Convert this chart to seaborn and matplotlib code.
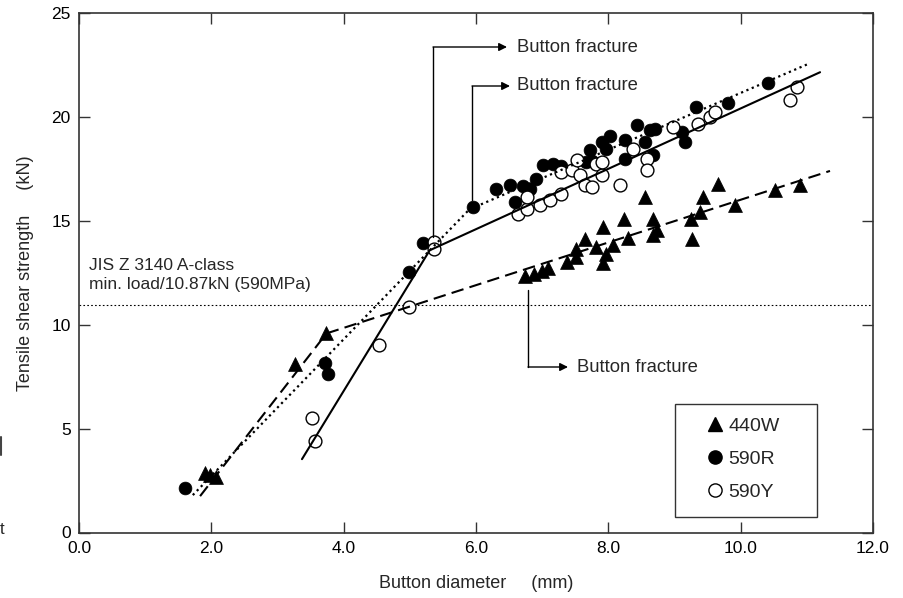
import numpy as np
import pandas as pd
import matplotlib
matplotlib.use("Agg")
import matplotlib.pyplot as plt
from matplotlib.lines import Line2D
from matplotlib.patches import Rectangle
import seaborn as sns

# ---------------- data ----------------
w440_d = [1.90, 1.98, 2.07, 3.27, 3.73, 6.74, 6.87, 6.99, 7.09, 7.37, 7.51, 7.51,
          7.65, 7.82, 7.92, 7.97, 7.92, 8.07, 8.24, 8.30, 8.55, 8.67, 8.68, 8.73,
          9.25, 9.27, 9.38, 9.43, 9.66, 9.91, 10.52, 10.90]
w440_f = [2.85, 2.76, 2.68, 8.13, 9.58, 12.33, 12.43, 12.59, 12.75, 13.02, 13.26, 13.66,
          14.14, 13.74, 14.70, 13.42, 12.97, 13.82, 15.11, 14.19, 16.14, 15.11, 14.30, 14.54,
          15.11, 14.14, 15.42, 16.14, 16.79, 15.75, 16.47, 16.71]

r590_d = [1.60, 3.72, 3.77, 4.98, 5.20, 5.96, 6.30, 6.51, 6.59, 6.71, 6.82, 6.91,
          7.02, 7.17, 7.29, 7.67, 7.72, 7.75, 7.90, 7.97, 8.02, 8.25, 8.25, 8.43,
          8.55, 8.68, 8.63, 8.70, 9.11, 9.16, 9.33, 9.81, 10.42]
r590_f = [2.15, 8.18, 7.62, 12.54, 13.93, 15.66, 16.55, 16.70, 15.90, 16.66, 16.55, 17.03,
          17.67, 17.75, 17.62, 17.83, 18.39, 17.90, 18.79, 18.47, 19.10, 18.87, 17.99, 19.59,
          18.79, 18.15, 19.35, 19.43, 19.27, 18.79, 20.47, 20.66, 21.63]

y590_d = [3.52, 3.56, 4.54, 4.98, 5.36, 5.37, 6.64, 6.77, 6.77, 6.97, 7.12, 7.29,
          7.29, 7.45, 7.52, 7.57, 7.65, 7.75, 7.82, 7.90, 7.90, 8.18, 8.38, 8.58,
          8.58, 8.98, 9.36, 9.54, 9.61, 10.75, 10.85]
y590_f = [5.52, 4.40, 9.01, 10.86, 14.00, 13.65, 15.35, 15.59, 16.14, 15.75, 15.99, 16.31,
          17.35, 17.43, 17.91, 17.19, 16.71, 16.63, 17.75, 17.19, 17.83, 16.71, 18.47, 17.99,
          17.43, 19.51, 19.67, 19.99, 20.23, 20.79, 21.43]

# regression (broken) lines
fit440_d = [1.83, 3.74, 11.35]
fit440_f = [1.75, 9.58, 17.40]
fit590r_d = [1.72, 5.90, 11.00]
fit590r_f = [1.80, 15.55, 22.52]
fit590y_d = [3.37, 5.30, 11.20]
fit590y_f = [3.53, 13.58, 22.15]

jis_load = 10.97

series = ["440W", "590R", "590Y"]
x_ticks = [0, 2, 4, 6, 8, 10, 12]
x_ticklabels = ["0.0", "2.0", "4.0", "6.0", "8.0", "10.0", "12.0"]
y_ticks = [0, 5, 10, 15, 20, 25]
y_ticklabels = ["0", "5", "10", "15", "20", "25"]

# ---------------- styling ----------------
sns.set_theme(style="ticks")
plt.rcParams["font.family"] = ["Liberation Sans", "DejaVu Sans"]

fig = plt.figure(figsize=(9.04, 5.98), dpi=100)
ax = fig.add_axes([79 / 904, 1 - 532.5 / 598, 794 / 904, 519.5 / 598])

df = pd.concat([
    pd.DataFrame({"d": w440_d, "f": w440_f, "steel": series[0]}),
    pd.DataFrame({"d": r590_d, "f": r590_f, "steel": series[1]}),
    pd.DataFrame({"d": y590_d, "f": y590_f, "steel": series[2]}),
], ignore_index=True)

msize = 85
sns.scatterplot(data=df[df.steel == "440W"], x="d", y="f", marker="^", s=msize + 15,
                color="black", edgecolor="black", linewidth=0.5, ax=ax, legend=False, zorder=3)
sns.scatterplot(data=df[df.steel == "590R"], x="d", y="f", marker="o", s=msize,
                color="black", edgecolor="black", linewidth=0.5, ax=ax, legend=False, zorder=3)
sns.scatterplot(data=df[df.steel == "590Y"], x="d", y="f", marker="o", s=msize,
                facecolor="white", edgecolor="black", linewidth=1.0, ax=ax, legend=False, zorder=4)

ax.plot(fit440_d, fit440_f, color="black", lw=1.5, linestyle=(0, (6, 3)), zorder=5)
ax.plot(fit590r_d, fit590r_f, color="black", lw=1.6, linestyle=(0, (1, 1.6)), zorder=5)
ax.plot(fit590y_d, fit590y_f, color="black", lw=1.5, linestyle="-", zorder=5)

ax.axhline(jis_load, color="black", lw=0.8, linestyle=(0, (1.5, 2)), zorder=2)

# annotations
def pxd(px):
    return (px - 79) / (794 / 12)

def pyd(py):
    return (532.5 - py) / (519.5 / 25)

ann_kw = dict(color="black", lw=1.0, zorder=6)
arrow_kw = dict(arrowstyle="-|>", color="black", lw=1.0, mutation_scale=12, shrinkA=0, shrinkB=0)
txt_kw = dict(fontsize=13.3, va="center", ha="left")

# 1. top
ax.plot([pxd(433), pxd(433)], [pyd(237), pyd(47)], **ann_kw)
ax.annotate("", xy=(pxd(507), pyd(47)), xytext=(pxd(433), pyd(47)), arrowprops=arrow_kw)
ax.text(pxd(517), pyd(47), "Button fracture", **txt_kw)
# 2. second
ax.plot([pxd(472), pxd(472)], [pyd(200), pyd(86)], **ann_kw)
ax.annotate("", xy=(pxd(510), pyd(86)), xytext=(pxd(472), pyd(86)), arrowprops=arrow_kw)
ax.text(pxd(517), pyd(86), "Button fracture", **txt_kw)
# 3. lower
ax.plot([pxd(528), pxd(528)], [pyd(290), pyd(367)], **ann_kw)
ax.annotate("", xy=(pxd(568), pyd(367)), xytext=(pxd(528), pyd(367)), arrowprops=arrow_kw)
ax.text(pxd(577), pyd(367), "Button fracture", **txt_kw)

ax.text(pxd(89), pyd(265), "JIS Z 3140 A-class", fontsize=12.5, va="center", ha="left")
ax.text(pxd(89), pyd(285), "min. load/10.87kN (590MPa)", fontsize=12.5, va="center", ha="left")

# axes
ax.set_xlim(0, 12)
ax.set_ylim(0, 25)
ax.set_xticks(x_ticks)
ax.set_xticklabels(x_ticklabels)
ax.set_yticks(y_ticks)
ax.set_yticklabels(y_ticklabels)
ax.tick_params(direction="in", length=8, width=1, colors="#333333", labelcolor="black",
               labelsize=12.5, top=True, right=True, pad=6)
for sp in ax.spines.values():
    sp.set_visible(True)
    sp.set_color("#333333")
    sp.set_linewidth(1.2)

ax.set_xlabel("Button diameter     (mm)", fontsize=13, labelpad=14)
ax.set_ylabel("Tensile shear strength     (kN)", fontsize=13, labelpad=12)

# legend: frame drawn separately so the padding matches the reference box
ax.add_patch(Rectangle(((675 - 79) / 794, (532.5 - 517) / 519.5),
                       (817 - 675) / 794, (517 - 404) / 519.5,
                       transform=ax.transAxes, facecolor="white", edgecolor="#333333",
                       lw=1.0, zorder=7))
handles = [
    Line2D([], [], marker="^", linestyle="none", color="black", markersize=10),
    Line2D([], [], marker="o", linestyle="none", color="black", markersize=9.5),
    Line2D([], [], marker="o", linestyle="none", markerfacecolor="white",
           markeredgecolor="black", markersize=9.5, markeredgewidth=1.0),
]
leg = ax.legend(handles, series, loc="upper left",
                bbox_to_anchor=((705 - 79) / 794, (532.5 - 417) / 519.5),
                borderaxespad=0, frameon=False, fontsize=14,
                handletextpad=0.22, labelspacing=0.8, borderpad=0, handlelength=1.0)
leg.set_zorder(8)

# small crop artifacts at the left edge of the reference
fig.text(0.0, 1 - 530 / 598, "t", fontsize=12, va="center", ha="left")
fig.add_artist(Line2D([1.5 / 904, 1.5 / 904], [1 - 437 / 598, 1 - 455 / 598],
                      color="#444444", lw=1.5))

fig.savefig("out.png", dpi=100)
